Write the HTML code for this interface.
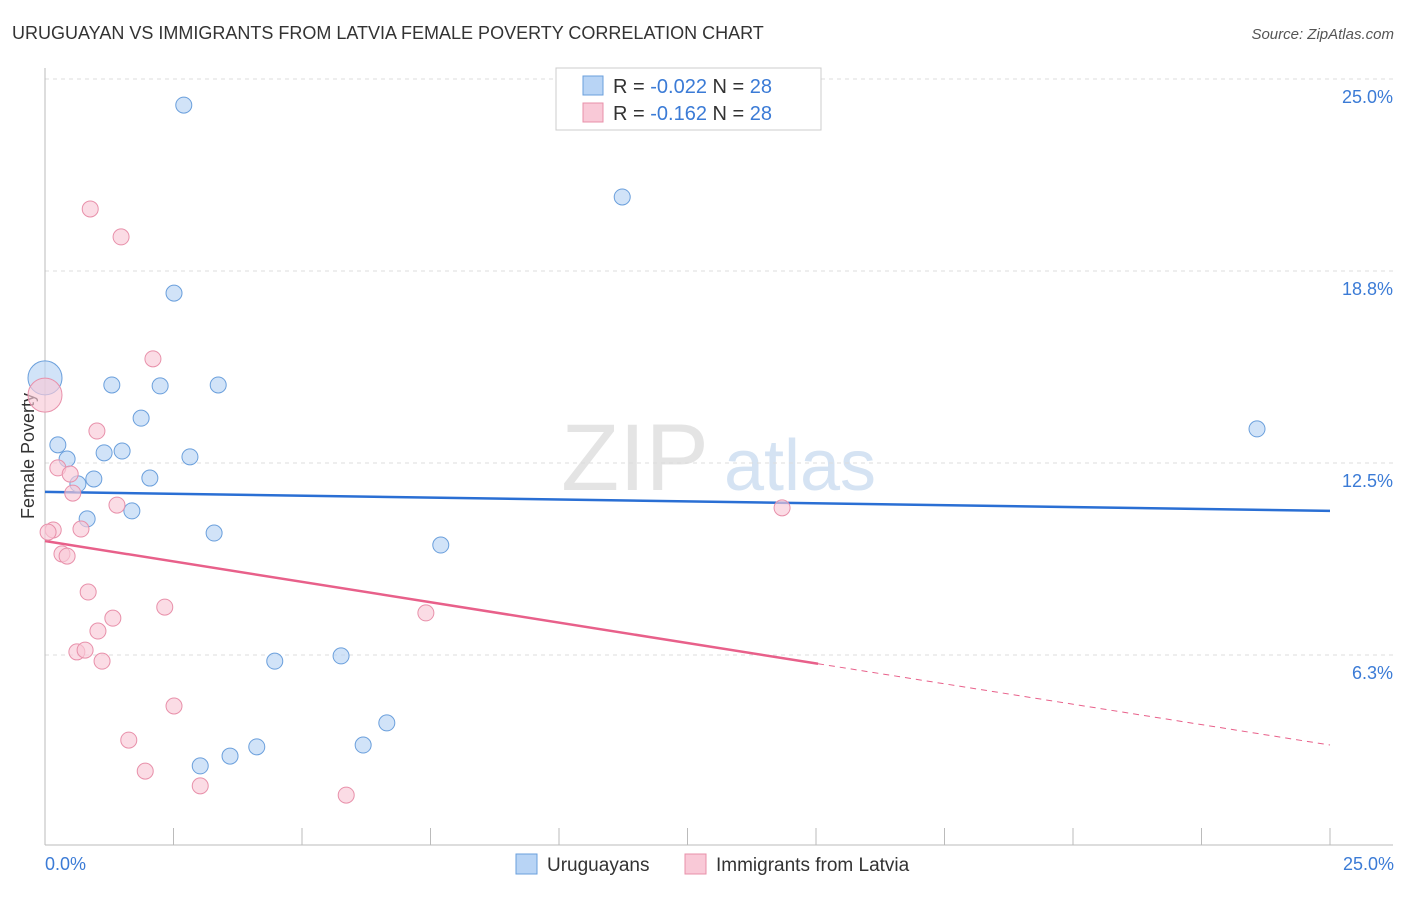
<!DOCTYPE html>
<html><head><meta charset="utf-8"><style>
body{margin:0;background:#fff;font-family:"Liberation Sans",sans-serif;}
svg text{font-family:"Liberation Sans",sans-serif;}
</style></head><body>
<svg id="c" width="1406" height="892">
<text x="12" y="39" font-size="18" fill="#333">URUGUAYAN VS IMMIGRANTS FROM LATVIA FEMALE POVERTY CORRELATION CHART</text>
<text x="1394" y="39" font-size="15" fill="#555" text-anchor="end" font-style="italic">Source: ZipAtlas.com</text>
<text x="34" y="456" font-size="18" fill="#333" text-anchor="middle" transform="rotate(-90 34 456)">Female Poverty</text>
<g><text x="635" y="490" font-size="95" fill="#e4e4e4" text-anchor="middle" font-family="Liberation Serif,serif">ZIP</text><text x="800" y="490" font-size="72" fill="#d5e3f3" text-anchor="middle">atlas</text></g>
<g id="grid"></g><g id="axes"></g><g id="lines"></g><g id="pts"></g>
<g>
<rect x="556" y="68" width="265" height="62" fill="#fff" stroke="#ccc"/>
<rect x="583" y="76" width="20" height="19" fill="#b8d4f5" stroke="#6a9fdc"/>
<text x="613" y="93" font-size="20" fill="#333">R = <tspan fill="#3b7bd6">-0.022</tspan>   N = <tspan fill="#3b7bd6">28</tspan></text>
<rect x="583" y="103" width="20" height="19" fill="#f9c9d7" stroke="#e890aa"/>
<text x="613" y="120" font-size="20" fill="#333">R =  <tspan fill="#3b7bd6">-0.162</tspan>   N = <tspan fill="#3b7bd6">28</tspan></text>
</g>
<g>
<rect x="516" y="854" width="21" height="20" fill="#b8d4f5" stroke="#6a9fdc"/>
<text x="547" y="871" font-size="19" fill="#333">Uruguayans</text>
<rect x="685" y="854" width="21" height="20" fill="#f9c9d7" stroke="#e890aa"/>
<text x="716" y="871" font-size="19" fill="#333">Immigrants from Latvia</text>
</g>
<text x="45" y="870" font-size="18" fill="#3b7bd6">0.0%</text>
<text x="1394" y="870" font-size="18" fill="#3b7bd6" text-anchor="end">25.0%</text>
</svg>
<script>
const yTicks=[25,18.75,12.5,6.25];
const yTickLabels=["25.0%","18.8%","12.5%","6.3%"];
const blueX=[2.70,11.23,2.51,0,1.30,2.24,3.37,1.87,0.25,0.43,1.15,1.50,2.82,0.95,2.04,0.64,0.82,1.69,3.29,7.70,4.47,5.76,6.65,6.19,4.12,3.60,3.02,23.58];
const blueY=[24.15,21.16,18.03,15.27,15.04,15.01,15.04,13.96,13.09,12.63,12.83,12.89,12.70,11.98,12.01,11.82,10.68,10.94,10.22,9.83,6.05,6.22,4.04,3.32,3.26,2.96,2.64,13.61];
const pinkX=[0.88,1.48,0.25,0.49,2.10,0,1.01,0.54,1.40,0.16,0.70,0.06,0.33,0.43,0.84,2.33,1.32,1.03,0.62,0.78,1.11,7.41,2.51,1.63,1.95,3.02,5.86,14.34];
const pinkY=[20.77,19.86,12.34,12.14,15.89,14.71,13.54,11.52,11.13,10.32,10.35,10.25,9.54,9.47,8.30,7.81,7.45,7.03,6.35,6.41,6.05,7.62,4.59,3.48,2.47,1.99,1.69,11.04];
const blueTrend=[11.56,10.94];
const pinkTrend=[9.96,3.32];
const pinkSolidEnd=15.04;
const X=v=>45+v/25*1285, Y=v=>847-v*30.72;
const NS="http://www.w3.org/2000/svg";
function mk(p,t,a){const e=document.createElementNS(NS,t);for(const k in a)e.setAttribute(k,a[k]);document.getElementById(p).appendChild(e);return e;}
yTicks.forEach((t,i)=>{
 const l=mk('grid','line',{x1:45,x2:1393,y1:Y(t),y2:Y(t),stroke:'#ddd','stroke-dasharray':'4,4'});
 
 
 const tx=mk('grid','text',{x:1393,y:Y(t)+24,'font-size':18,fill:'#3b7bd6','text-anchor':'end'});
 tx.textContent=yTickLabels[i];
 
 
});
let a=mk('axes','line',{x1:45,x2:1393,y1:845,y2:845,stroke:'#bbb'});


a=mk('axes','line',{x1:45,x2:45,y1:68,y2:845,stroke:'#bbb'});


for(let i=0;i<=10;i++){const t=mk('axes','line',{x1:X(i*2.5),x2:X(i*2.5),y1:828,y2:845,stroke:'#bbb'});
 
 }
let ln=mk('lines','line',{x1:X(0),y1:Y(blueTrend[0]),x2:X(25),y2:Y(blueTrend[1]),stroke:'#2a6fd4','stroke-width':2.5});


const py=x=>pinkTrend[0]+(pinkTrend[1]-pinkTrend[0])*x/25;
ln=mk('lines','line',{x1:X(0),y1:Y(py(0)),x2:X(pinkSolidEnd),y2:Y(py(pinkSolidEnd)),stroke:'#e8608a','stroke-width':2.5});


ln=mk('lines','line',{x1:X(pinkSolidEnd),y1:Y(py(pinkSolidEnd)),x2:X(25),y2:Y(py(25)),stroke:'#e8608a','stroke-width':1,'stroke-dasharray':'6,5'});


function pts(xs,ys,fill,stroke,name){xs.forEach((x,i)=>{
 const big=x===0;
 const c=mk('pts','circle',{cx:X(x),cy:Y(ys[i]),r:big?17:8,fill:fill,stroke:stroke,'stroke-width':1,'fill-opacity':0.65});
 
 
});}
pts(blueX,blueY,'#b8d4f5','#6a9fdc','uruguayans-point');
pts(pinkX,pinkY,'#f9c9d7','#e890aa','latvia-point');
</script>
</body></html>
